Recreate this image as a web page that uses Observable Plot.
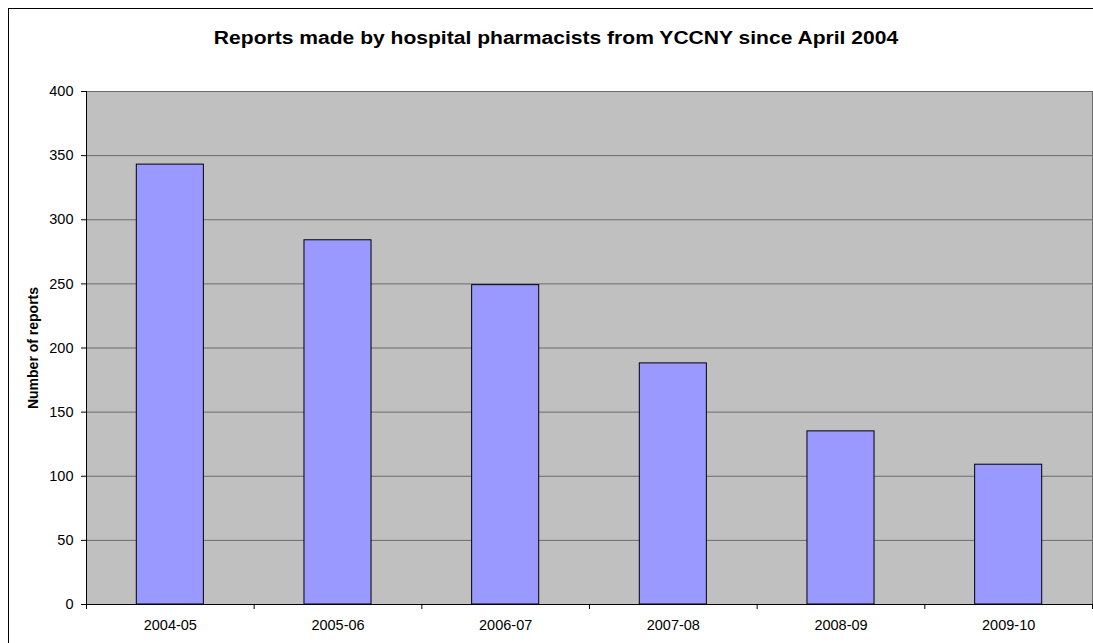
<!DOCTYPE html>
<html>
<head>
<meta charset="utf-8">
<script src="https://cdn.jsdelivr.net/npm/d3@7"></script>
<script src="https://cdn.jsdelivr.net/npm/@observablehq/plot@0.6"></script>
<style>
  html, body { margin: 0; padding: 0; background: #fff; overflow: hidden; }
  #frame { position: absolute; left: 8px; top: 8px; width: 1100px; height: 700px; border: 1px solid #000; box-sizing: border-box; }
  #title { position: absolute; left: 0; width: 1112px; top: 28px; text-align: center; line-height: 20px;
           font: bold 18px "Liberation Sans", Arial, sans-serif; color: #000; white-space: nowrap;
           transform: scaleX(1.17); transform-origin: 556px 0; }
  #chart { position: absolute; left: 0; top: 0; }
  #chart g[aria-label="y-axis label"] text { font-weight: bold; font-size: 14px; }
</style>
</head>
<body>
<div id="frame"></div>
<div id="title">Reports made by hospital pharmacists from YCCNY since April 2004</div>
<div id="chart"></div>
<script>
const categories = ["2004-05", "2005-06", "2006-07", "2007-08", "2008-09", "2009-10"];
const reports = [343, 284, 249, 188, 135, 109];
const yTicks = [0, 50, 100, 150, 200, 250, 300, 350, 400];

const data = categories.map((c, i) => ({category: c, index: i, value: reports[i]}));
const n = categories.length;

const chart = Plot.plot({
  width: 1093,
  height: 643,
  marginLeft: 86,
  marginRight: 1,
  marginTop: 91,
  marginBottom: 39,
  style: {fontFamily: "'Liberation Sans', Arial, sans-serif", fontSize: "14.5px", background: "transparent", color: "#000"},
  x: {domain: [0, n], axis: null},
  y: {domain: [0, 400], axis: null},
  marks: [
    Plot.frame({fill: "#c0c0c0", stroke: "#6b6b6b"}),
    Plot.gridY(yTicks.filter(t => t > 0), {stroke: "#6b6b6b", strokeOpacity: 1, strokeWidth: 1}),
    Plot.rectY(data, {x1: d => d.index + 0.3, x2: d => d.index + 0.7, y1: 0, y2: "value",
                      fill: "#9999ff", stroke: "#000", strokeWidth: 1}),
    Plot.ruleY([0], {stroke: "#000"}),
    Plot.ruleX([0], {stroke: "#000"}),
    Plot.axisY({ticks: yTicks, tickSize: 5, tickPadding: 8, stroke: "#000",
                label: "Number of reports", labelAnchor: "center", labelArrow: "none", labelOffset: 58}),
    Plot.axisX({ticks: d3.range(0, n + 1), tickSize: 5, tickFormat: () => "", stroke: "#000"}),
    Plot.axisX({ticks: d3.range(0, n).map(i => i + 0.5), tickSize: 0, tickPadding: 15,
                tickFormat: v => categories[Math.floor(v)], label: null})
  ]
});
document.getElementById("chart").appendChild(chart);
</script>
</body>
</html>
